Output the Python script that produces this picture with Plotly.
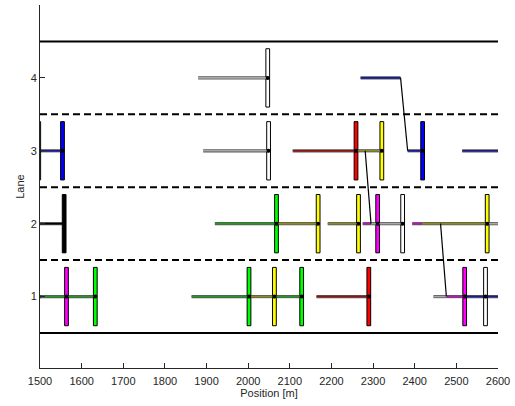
import plotly.graph_objects as go

# ---- data ----
veh_x = [1563.6, 1632.8, 2002, 2063, 2128.5, 2289.7, 2520, 2570,        # lane 1
         1558, 2068, 2168, 2265, 2311, 2371, 2574,                       # lane 2
         1497, 1554, 2049, 2259, 2321, 2419,                             # lane 3
         2047]                                                           # lane 4
veh_lane = [1, 1, 1, 1, 1, 1, 1, 1,
            2, 2, 2, 2, 2, 2, 2,
            3, 3, 3, 3, 3, 3,
            4]
veh_color = ["magenta", "green", "green", "yellow", "green", "red", "magenta", "white",
             "black", "green", "yellow", "yellow", "magenta", "white", "yellow",
             "white", "blue", "white", "red", "yellow", "blue",
             "white"]

# trails: start, end, lane, colour key
trail_x0 = [1490, 1490, 1864, 2002, 2063, 2164, 2445, 2476, 2520,
            1490, 1920, 2068, 2191, 2275, 2295, 2394, 2418, 2574,
            1490, 1892, 2107, 2259, 2383, 2514,
            1880, 2270]
trail_x1 = [1503, 1632.8, 2002, 2063, 2128.5, 2289.7, 2476, 2520, 2610,
            1558, 2068, 2168, 2265, 2295, 2371, 2418, 2574, 2610,
            1554, 2049, 2259, 2321, 2419, 2610,
            2047, 2366]
trail_lane = [1, 1, 1, 1, 1, 1, 1, 1, 1,
              2, 2, 2, 2, 2, 2, 2, 2, 2,
              3, 3, 3, 3, 3, 3,
              4, 4]
trail_color = ["magenta", "green", "green", "yellow", "green", "red", "white", "magenta", "blue",
               "black", "green", "yellow", "yellow", "magenta", "white", "magenta", "yellow", "white",
               "blue", "white", "red", "yellow", "blue", "blue",
               "white", "blue"]

# lane changes: (x_from, lane_from, x_to, lane_to)
lc_x0 = [2366, 2281, 2462]
lc_l0 = [4, 3, 2]
lc_x1 = [2383, 2295, 2476]
lc_l1 = [3, 2, 1]

lane_bounds = [0.5, 1.5, 2.5, 3.5, 4.5]
x_ticks = list(range(1500, 2601, 100))
y_ticks = [1, 2, 3, 4]

# ---- styles ----
fill_map = {"magenta": "#ff00ff", "green": "#00ff00", "yellow": "#ffff00", "red": "#ff0000",
            "white": "#ffffff", "black": "#000000", "blue": "#0000ff"}
trail_map = {"magenta": "#c010c0", "green": "#229a22", "yellow": "#8f8a22", "red": "#9a1010",
             "white": "#a8a8a8", "black": "#000000", "blue": "#1a1a9a"}
HALF_L = 4.5
HALF_W = 0.4
XMIN, XMAX = 1500, 2600

fig = go.Figure()

# lane boundaries
for b in lane_bounds:
    solid = b in (lane_bounds[0], lane_bounds[-1])
    fig.add_trace(go.Scatter(x=[XMIN, XMAX], y=[b, b], mode="lines",
                             line=dict(color="black", width=2, dash=None if solid else "7px,4px"),
                             hoverinfo="skip", showlegend=False))

# vehicle rectangles
for x, l, c in zip(veh_x, veh_lane, veh_color):
    fig.add_trace(go.Scatter(x=[x - HALF_L, x + HALF_L, x + HALF_L, x - HALF_L, x - HALF_L],
                             y=[l - HALF_W, l - HALF_W, l + HALF_W, l + HALF_W, l - HALF_W],
                             mode="lines", fill="toself", fillcolor=fill_map[c],
                             line=dict(color="black", width=1),
                             hoverinfo="skip", showlegend=False))

# trails: outline then colour
ox, oy = [], []
for x0, x1, l in zip(trail_x0, trail_x1, trail_lane):
    ox += [x0, x1, None]
    oy += [l, l, None]
fig.add_trace(go.Scatter(x=ox, y=oy, mode="lines", line=dict(color="rgba(0,0,0,0.65)", width=3.2),
                         hoverinfo="skip", showlegend=False))
for key in trail_map:
    cx, cy = [], []
    for x0, x1, l, c in zip(trail_x0, trail_x1, trail_lane, trail_color):
        if c == key:
            cx += [x0, x1, None]
            cy += [l, l, None]
    if cx:
        fig.add_trace(go.Scatter(x=cx, y=cy, mode="lines", line=dict(color=trail_map[key], width=1.6),
                                 hoverinfo="skip", showlegend=False))

# lane changes
lx, ly = [], []
for a, b, c, d in zip(lc_x0, lc_l0, lc_x1, lc_l1):
    lx += [a, c, None]
    ly += [b, d, None]
fig.add_trace(go.Scatter(x=lx, y=ly, mode="lines", line=dict(color="black", width=1.2),
                         hoverinfo="skip", showlegend=False))

# centre dots
fig.add_trace(go.Scatter(x=veh_x, y=veh_lane, mode="markers",
                         marker=dict(color="black", size=4, symbol="circle"),
                         hoverinfo="skip", showlegend=False))

axis_col = "#262626"
fig.update_layout(
    width=515, height=406,
    margin=dict(l=40, r=13.5, t=5, b=38),
    paper_bgcolor="white", plot_bgcolor="white",
    font=dict(family="Liberation Sans, Arial, sans-serif", size=11, color=axis_col),
    xaxis=dict(range=[XMIN, XMAX], tickvals=x_ticks, ticks="inside", ticklen=5, tickcolor=axis_col,
               showline=True, linecolor=axis_col, linewidth=1, showgrid=False, zeroline=False,
               ticklabelstandoff=3,
               title=dict(text="Position [m]", font=dict(size=11), standoff=2)),
    yaxis=dict(range=[0.02, 5.0], tickvals=y_ticks, ticks="inside", ticklen=5, tickcolor=axis_col,
               showline=True, linecolor=axis_col, linewidth=1, showgrid=False, zeroline=False,
               title=dict(text="Lane", font=dict(size=11), standoff=3)),
)

fig.write_html("out.html", config={"displayModeBar": False},
               post_script="document.body.style.margin='0px';")
